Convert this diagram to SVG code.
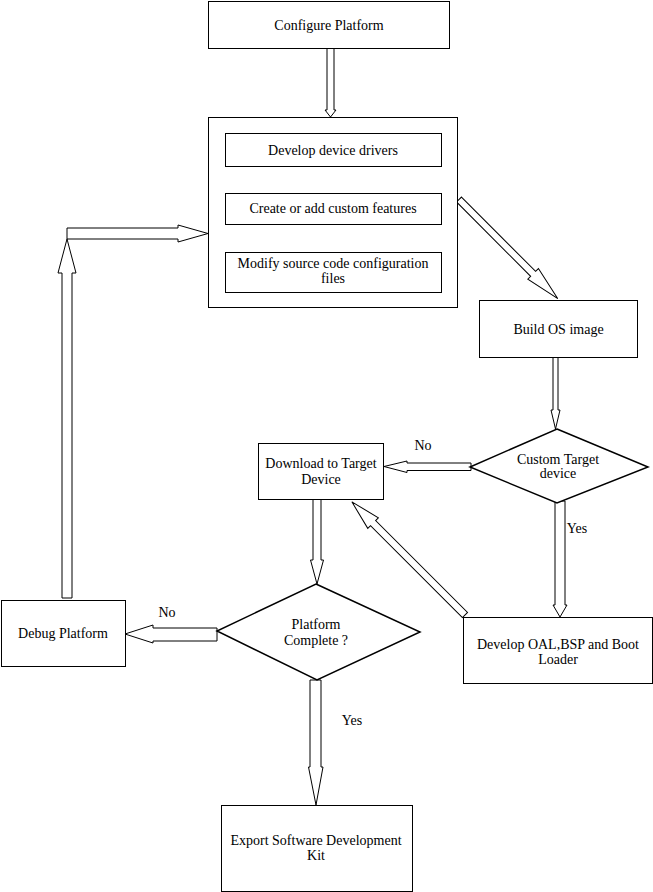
<svg xmlns="http://www.w3.org/2000/svg" width="653" height="892" viewBox="0 0 653 892">
<style>
.box{fill:#fff;stroke:#000;stroke-width:1}
.dia{fill:#fff;stroke:#000;stroke-width:1.5}
.arr{fill:#fff;stroke:#000;stroke-width:1;stroke-linejoin:miter}
text{font-family:"Liberation Serif","Times New Roman",serif;font-size:14px;fill:#000;text-anchor:middle}
</style>
<rect x="0" y="0" width="653" height="892" fill="#fff"/>
<g id="connectors">
<polygon class="arr" points="327,48 334,48 334,110 336,110 330.5,117 325,110 327,110"/>
<polygon class="arr" points="0,-3.5 105,-3.5 105,-7.5 140,0 105,7.5 105,3.5 0,3.5" transform="translate(459,199.5) rotate(45.1)"/>
<polygon class="arr" points="553,357 558,357 558,410 560,410 555.5,429 551,410 553,410"/>
<polygon class="arr" points="471,463 407,463 407,461 384,466.5 407,472.5 407,470.5 471,470.5"/>
<polygon class="arr" points="313,499 321,499 321,560 323.5,560 317,584 310.5,560 313,560"/>
<polygon class="arr" points="217,628 153,628 153,625 125,634 153,643 153,641 217,641"/>
<polygon class="arr" points="62,598 72,598 72,273 76,273 67,239 58,273 62,273"/>
<polygon class="arr" points="67,228 178,228 178,225 208,233.5 178,242 178,239 67,239"/>
<polygon class="arr" points="555,501 565,501 565,605 567,605 560,617 553,605 555,605"/>
<polygon class="arr" points="0,-3.6 130,-3.6 130,-7.5 160,0 130,7.5 130,3.6 0,3.6" transform="translate(465,615) rotate(-135)"/>
<polygon class="arr" points="310,680 321,680 321,767 323,767 316,805 308.5,767 310,767"/>
<text x="423" y="450">No</text>
<text x="167" y="617">No</text>
<text x="577" y="533">Yes</text>
<text x="352" y="725">Yes</text>
</g>
<g id="configure-platform">
<rect class="box" x="208.5" y="1.5" width="241" height="47"/>
<text x="329" y="29.5">Configure Platform</text>
</g>
<g id="develop-group">
<rect class="box" x="208.5" y="117.5" width="249" height="190"/>
</g>
<g id="develop-device-drivers">
<rect class="box" x="225.5" y="133.5" width="216" height="33"/>
<text x="333" y="155">Develop device drivers</text>
</g>
<g id="create-custom-features">
<rect class="box" x="225.5" y="193.5" width="216" height="31"/>
<text x="333" y="213">Create or add custom features</text>
</g>
<g id="modify-source">
<rect class="box" x="225.5" y="252.5" width="216" height="40"/>
<text x="333" y="268">Modify source code configuration</text>
<text x="333" y="283">files</text>
</g>
<g id="build-os-image">
<rect class="box" x="479.5" y="300.5" width="158" height="57"/>
<text x="558.5" y="334">Build OS image</text>
</g>
<g id="custom-target">
<polygon class="dia" points="557,429 648,467 557,503 470,467"/>
<text x="558" y="464">Custom Target</text>
<text x="558" y="477.5">device</text>
</g>
<g id="download-target">
<rect class="box" x="258.5" y="443.5" width="125" height="56"/>
<text x="321" y="467.5">Download to Target</text>
<text x="321" y="483.5">Device</text>
</g>
<g id="platform-complete">
<polygon class="dia" points="316,584 420,632 317,680 217,631"/>
<text x="316" y="629">Platform</text>
<text x="316" y="645">Complete ?</text>
</g>
<g id="debug-platform">
<rect class="box" x="1.5" y="600.5" width="124" height="66"/>
<text x="63" y="638">Debug Platform</text>
</g>
<g id="develop-oal">
<rect class="box" x="463.5" y="617.5" width="189" height="66"/>
<text x="558" y="648.5">Develop OAL,BSP and Boot</text>
<text x="558" y="663.5">Loader</text>
</g>
<g id="export-sdk">
<rect class="box" x="221.5" y="805.5" width="191" height="86"/>
<text x="316" y="845">Export Software Development</text>
<text x="316" y="860">Kit</text>
</g>
</svg>
